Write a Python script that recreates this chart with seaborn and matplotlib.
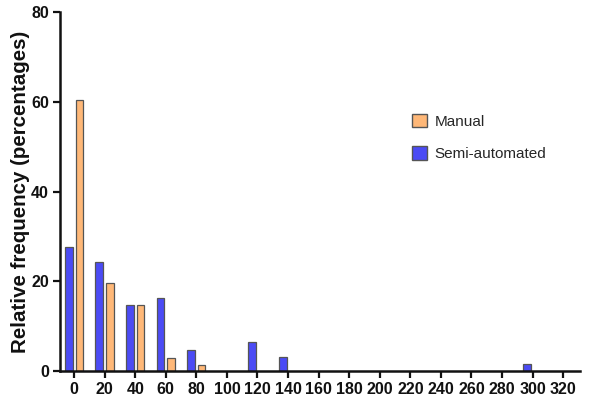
import matplotlib
matplotlib.use("Agg")
import matplotlib.pyplot as plt
from matplotlib.patches import Patch
import seaborn as sns
import pandas as pd

# Bin starts (minutes) and relative frequencies (%) per method
bins_semi = [0, 20, 40, 60, 80, 120, 140, 300]
freq_semi = [27.7, 24.3, 14.7, 16.2, 4.7, 6.4, 3.1, 1.5]
bins_manual = [0, 20, 40, 60, 80]
freq_manual = [60.5, 19.5, 14.7, 3.0, 1.4]
x_ticks = list(range(0, 321, 20))
y_ticks = [0, 20, 40, 60, 80]

methods = ["Semi-automated", "Manual"]
colors = {"Semi-automated": "#4B4BF5", "Manual": "#FFB878"}

df = pd.concat([
    pd.DataFrame({"bin": bins_semi, "freq": freq_semi, "method": "Semi-automated"}),
    pd.DataFrame({"bin": bins_manual, "freq": freq_manual, "method": "Manual"}),
], ignore_index=True)

sns.set_theme(style="ticks")
plt.rcParams["font.family"] = ["Liberation Sans", "DejaVu Sans"]

fig = plt.figure(figsize=(5.92, 4.05), dpi=100)
ax = fig.add_axes([60 / 592, 34 / 405, 520 / 592, 359 / 405])

sns.barplot(data=df, x="bin", y="freq", hue="method", hue_order=methods,
            palette=colors, native_scale=True, dodge=True, width=0.7, gap=0.29,
            edgecolor="#555555", linewidth=0.9, saturation=1, errorbar=None,
            legend=False, ax=ax)

ax.set_xlim(-9.2, 331)
ax.set_ylim(0, 80)
ax.set_xticks(x_ticks)
ax.set_xticklabels([str(t) for t in x_ticks])
ax.set_yticks(y_ticks)
ax.set_yticklabels([str(t) for t in y_ticks])
for lab in ax.get_xticklabels() + ax.get_yticklabels():
    lab.set_fontweight("bold")
    lab.set_fontsize(11.5)
    lab.set_color("#111111")

ax.set_xlabel("")
ax.set_ylabel("Relative frequency (percentages)", fontsize=14.8,
              fontweight="bold", color="#111111", labelpad=0.5)

for side in ("top", "right"):
    ax.spines[side].set_visible(False)
for side in ("left", "bottom"):
    ax.spines[side].set_linewidth(1.8)
    ax.spines[side].set_color("#111111")
ax.tick_params(axis="both", width=1.6, length=5, color="#111111", pad=3)

handles = [Patch(facecolor=colors["Manual"], edgecolor="#555555", label="Manual"),
           Patch(facecolor=colors["Semi-automated"], edgecolor="#555555", label="Semi-automated")]
ax.legend(handles=handles, loc="upper left", bbox_to_anchor=(0.65, 0.755),
          frameon=False, fontsize=11, handlelength=1.0, handleheight=1.0,
          handletextpad=0.5, labelspacing=1.15)

fig.savefig("out.png", dpi=100)
